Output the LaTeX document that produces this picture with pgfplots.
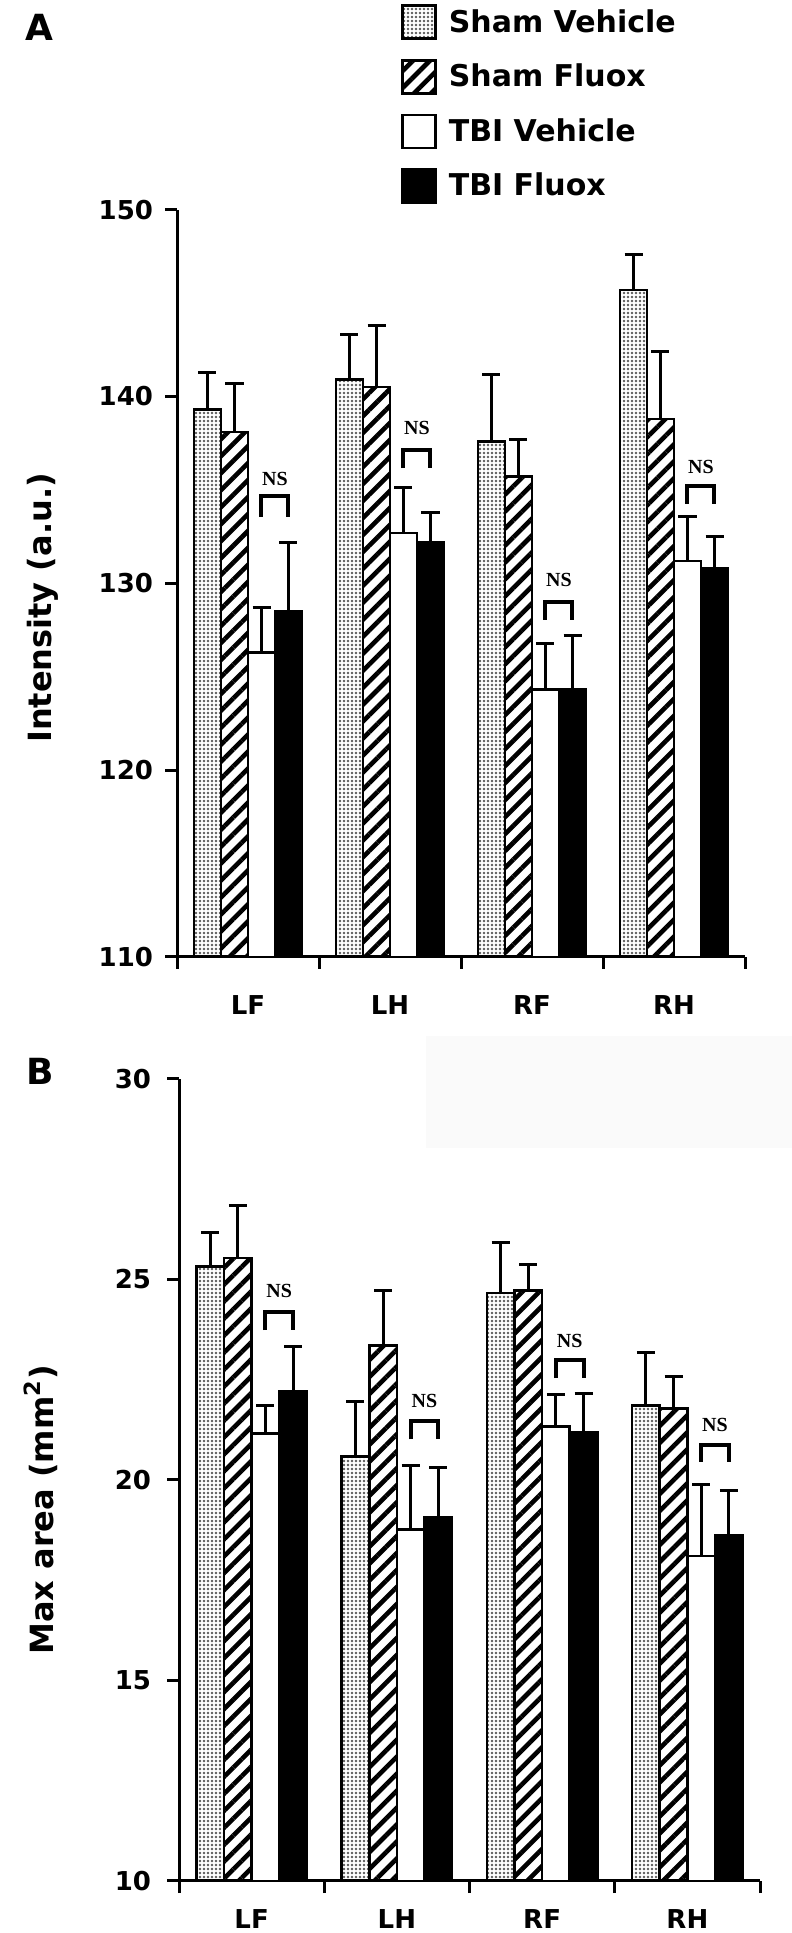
\documentclass[border=0pt]{standalone}
\usepackage{fontspec}
\setmainfont{DejaVu Sans}
\newfontfamily\nsfont{Liberation Serif}
\usepackage{pgfplots}
\pgfplotsset{compat=1.18}
\usepackage{pgfplotstable}
\usetikzlibrary{patterns.meta}

\pgfplotstableread{
cat sv sve sf sfe tv tve tf tfe
0 139.3 2.0 138.1 2.6 126.3 2.4 128.5 3.7
1 140.9 2.4 140.5 3.3 132.7 2.4 132.2 1.6
2 137.6 3.6 135.7 2.0 124.3 2.5 124.3 2.9
3 145.7 1.9 138.8 3.6 131.2 2.4 130.8 1.7
}\tableA

\pgfplotstableread{
cat sv sve sf sfe tv tve tf tfe
0 25.33 0.85 25.54 1.31 21.16 0.70 22.22 1.10
1 20.59 1.36 23.36 1.37 18.76 1.60 19.08 1.23
2 24.66 1.27 24.72 0.65 21.34 0.78 21.20 0.95
3 21.86 1.31 21.79 0.79 18.10 1.80 18.63 1.12
}\tableB

\tikzset{
  svstyle/.style={draw=black, line width=1.3pt, pattern={Dots[distance=2pt, radius=0.65pt]}, pattern color=black!65},
  sfstyle/.style={draw=black, line width=1.3pt, pattern={Lines[angle=45, distance=6pt, line width=2.3pt]}, pattern color=black},
  tvstyle/.style={draw=black, line width=1.3pt, fill=white},
  tfstyle/.style={draw=black, line width=1.3pt, fill=black},
  nsbr/.style={line width=2pt, line join=miter},
  nstext/.style={font=\nsfont\bfseries\fontsize{10}{10}\selectfont, inner sep=0pt},
}

\pgfplotsset{
  myaxis/.style={
    scale only axis, ybar=0pt,
    xmin=-0.5, xmax=3.5,
    axis x line*=bottom, axis y line*=left,
    axis line style={line width=1.5pt, -},
    xtick={0,1,2,3}, xticklabels={LF,LH,RF,RH},
    minor xtick={-0.5,0.5,1.5,2.5,3.5},
    tick align=outside, major tick length=6pt, minor tick length=6pt,
    tick style={line width=1.5pt, black},
    major x tick style={draw=none},
    ticklabel style={font=\bfseries\fontsize{13}{13}\selectfont},
    /pgf/number format/assume math mode=true,
    error bars/y dir=plus, error bars/y explicit,
    error bars/error bar style={line width=1.5pt, black, solid},
    error bars/error mark options={rotate=90, line width=1.5pt, mark size=4.5pt, black, solid},
  },
  mylegend/.style={legend image code/.code={\draw[##1, line width=1.3pt] (0pt,-8.25pt) rectangle (16.5pt,8.25pt);}},
}

\begin{document}
\begin{tikzpicture}
\useasboundingbox (0,0) rectangle (396pt,966.5pt);
\fill[gray!4] (213pt,392.5pt) rectangle (396pt,448.5pt);

\node[font=\bfseries\fontsize{18}{18}\selectfont] at (19.5pt,953pt) {A};
\node[font=\bfseries\fontsize{18}{18}\selectfont] at (20pt,431pt) {B};

% Panel A
\begin{axis}[myaxis,
  at={(88.5pt,488pt)}, anchor=south west,
  width=284pt, height=373.7pt,
  bar width=13.5pt,
  ymin=110, ymax=150, ytick={110,120,130,140,150},
  xticklabel style={inner sep=0pt, yshift=-13pt},
  yticklabel style={xshift=-2.5pt},
  ylabel={Intensity (a.u.)},
  every axis y label/.style={at={(axis description cs:-0.236,0.467)}, rotate=90, anchor=center, font=\bfseries\fontsize{16}{16}\selectfont},
  legend style={at={(axis description cs:0.394,1.275)}, anchor=north west, draw=none, fill=none,
    inner sep=0pt, row sep=9.5pt, font=\bfseries\fontsize{15}{15}\selectfont, cells={anchor=west},
    /tikz/every odd column/.append style={column sep=4pt}},
  legend cell align=left,
]
\addplot[svstyle, mylegend] table[x=cat, y=sv, y error=sve] {\tableA};
\addlegendentry{Sham Vehicle}
\addplot[sfstyle, mylegend] table[x=cat, y=sf, y error=sfe] {\tableA};
\addlegendentry{Sham Fluox}
\addplot[tvstyle, mylegend] table[x=cat, y=tv, y error=tve] {\tableA};
\addlegendentry{TBI Vehicle}
\addplot[tfstyle, mylegend] table[x=cat, y=tf, y error=tfe] {\tableA};
\addlegendentry{TBI Fluox}

\draw[nsbr] (axis cs:0.095,133.56) -- (axis cs:0.095,134.65) -- (axis cs:0.285,134.65) -- (axis cs:0.285,133.56);
\node[nstext] at (axis cs:0.19,135.6) {NS};
\draw[nsbr] (axis cs:1.095,136.16) -- (axis cs:1.095,137.11) -- (axis cs:1.285,137.11) -- (axis cs:1.285,136.16);
\node[nstext] at (axis cs:1.19,138.3) {NS};
\draw[nsbr] (axis cs:2.095,128.05) -- (axis cs:2.095,129.0) -- (axis cs:2.285,129.0) -- (axis cs:2.285,128.05);
\node[nstext] at (axis cs:2.19,130.2) {NS};
\draw[nsbr] (axis cs:3.095,134.25) -- (axis cs:3.095,135.2) -- (axis cs:3.285,135.2) -- (axis cs:3.285,134.25);
\node[nstext] at (axis cs:3.19,136.2) {NS};
\end{axis}

% Panel B
\begin{axis}[myaxis,
  at={(89.5pt,26pt)}, anchor=south west,
  width=290.5pt, height=401pt,
  bar width=13.8pt,
  ymin=10, ymax=30, ytick={10,15,20,25,30},
  xticklabel style={inner sep=0pt, yshift=-8pt},
  yticklabel style={xshift=-4.5pt},
  ylabel={Max area (mm\textsuperscript{2})},
  every axis y label/.style={at={(axis description cs:-0.2375,0.4626)}, rotate=90, anchor=center, font=\bfseries\fontsize{16}{16}\selectfont},
]
\addplot[svstyle] table[x=cat, y=sv, y error=sve] {\tableB};
\addplot[sfstyle] table[x=cat, y=sf, y error=sfe] {\tableB};
\addplot[tvstyle] table[x=cat, y=tv, y error=tve] {\tableB};
\addplot[tfstyle] table[x=cat, y=tf, y error=tfe] {\tableB};

\draw[nsbr] (axis cs:0.095,23.74) -- (axis cs:0.095,24.2) -- (axis cs:0.285,24.2) -- (axis cs:0.285,23.74);
\node[nstext] at (axis cs:0.19,24.72) {NS};
\draw[nsbr] (axis cs:1.095,21.01) -- (axis cs:1.095,21.48) -- (axis cs:1.285,21.48) -- (axis cs:1.285,21.01);
\node[nstext] at (axis cs:1.19,21.97) {NS};
\draw[nsbr] (axis cs:2.095,22.54) -- (axis cs:2.095,22.99) -- (axis cs:2.285,22.99) -- (axis cs:2.285,22.54);
\node[nstext] at (axis cs:2.19,23.46) {NS};
\draw[nsbr] (axis cs:3.095,20.45) -- (axis cs:3.095,20.88) -- (axis cs:3.285,20.88) -- (axis cs:3.285,20.45);
\node[nstext] at (axis cs:3.19,21.37) {NS};
\end{axis}
\end{tikzpicture}
\end{document}
